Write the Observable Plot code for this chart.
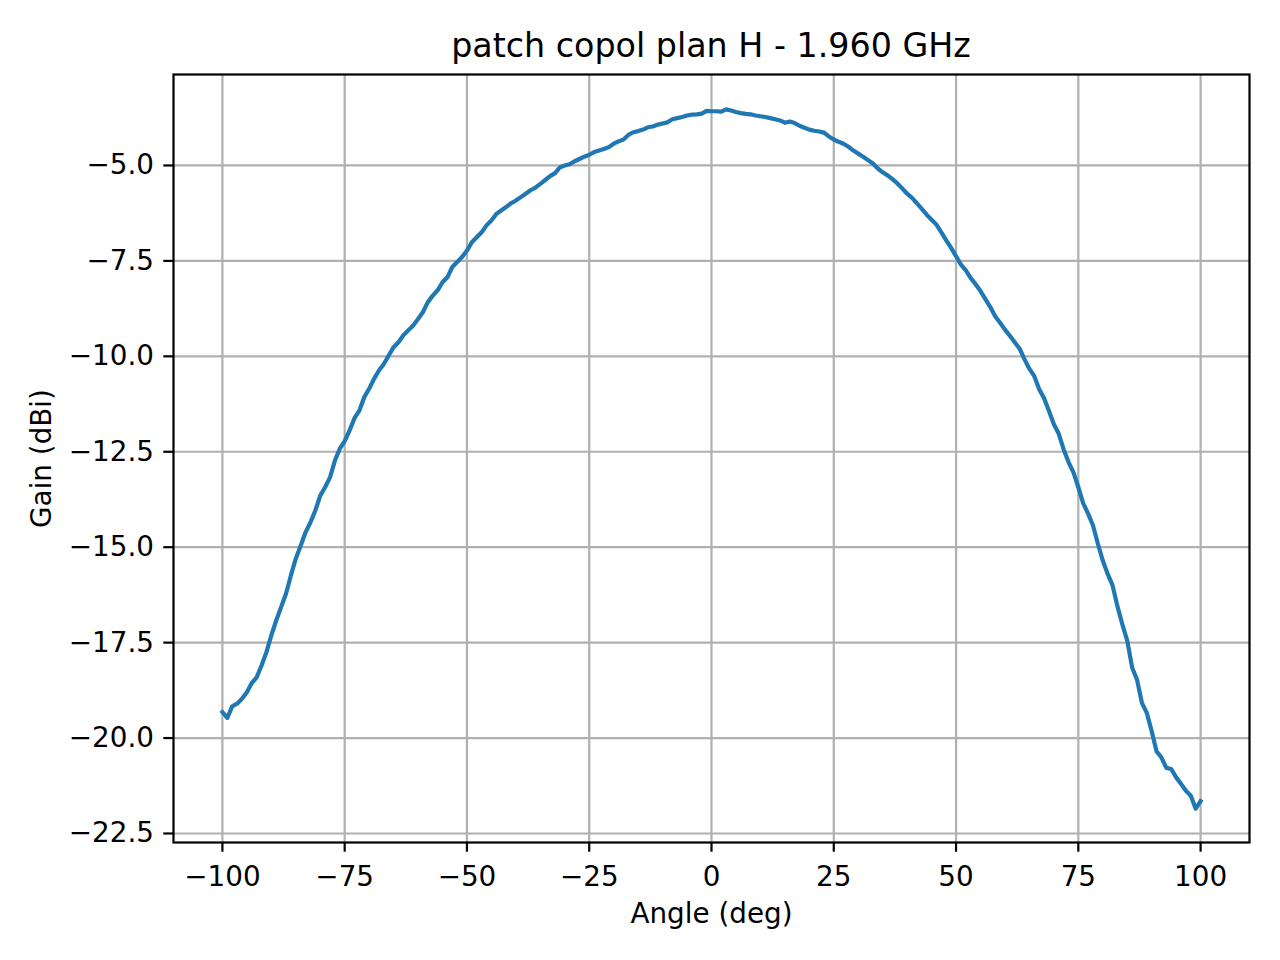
<!DOCTYPE html>
<html>
<head>
<meta charset="utf-8">
<script src="https://cdn.jsdelivr.net/npm/d3@7"></script>
<script src="https://cdn.jsdelivr.net/npm/@observablehq/plot@0.6"></script>
<style>
  html, body { margin: 0; padding: 0; background: white; }
  #wrap { width: 1280px; height: 960px; position: relative; background: white; }
  #title {
    height: 64px; box-sizing: border-box; padding-top: 29px;
    padding-left: 173px; padding-right: 31px;
    font-family: "DejaVu Sans"; font-size: 33.3px; line-height: 33.3px;
    text-align: center; color: black; white-space: nowrap;
  }
</style>
</head>
<body>
<div id="wrap">
  <div id="title">patch copol plan H - 1.960 GHz</div>
  <div id="chart"></div>
</div>
<script>
const angles = [
  -100,-99,-98,-97,-96,-95,-94,-93,-92,-91,-90,-89,-88,-87,-86,-85,-84,-83,-82,-81,
  -80,-79,-78,-77,-76,-75,-74,-73,-72,-71,-70,-69,-68,-67,-66,-65,-64,-63,-62,-61,
  -60,-59,-58,-57,-56,-55,-54,-53,-52,-51,-50,-49,-48,-47,-46,-45,-44,-43,-42,-41,
  -40,-39,-38,-37,-36,-35,-34,-33,-32,-31,-30,-29,-28,-27,-26,-25,-24,-23,-22,-21,
  -20,-19,-18,-17,-16,-15,-14,-13,-12,-11,-10,-9,-8,-7,-6,-5,-4,-3,-2,-1,
  0,1,2,3,4,5,6,7,8,9,10,11,12,13,14,15,16,17,18,19,
  20,21,22,23,24,25,26,27,28,29,30,31,32,33,34,35,36,37,38,39,
  40,41,42,43,44,45,46,47,48,49,50,51,52,53,54,55,56,57,58,59,
  60,61,62,63,64,65,66,67,68,69,70,71,72,73,74,75,76,77,78,79,
  80,81,82,83,84,85,86,87,88,89,90,91,92,93,94,95,96,97,98,99,100
];
const gains = [
  -19.32,-19.47,-19.17,-19.10,-18.97,-18.80,-18.56,-18.41,-18.10,-17.75,
  -17.31,-16.92,-16.57,-16.22,-15.74,-15.30,-14.96,-14.61,-14.35,-14.04,
  -13.65,-13.43,-13.17,-12.73,-12.42,-12.22,-11.94,-11.62,-11.42,-11.07,
  -10.85,-10.59,-10.37,-10.20,-9.98,-9.76,-9.63,-9.45,-9.32,-9.19,
  -9.02,-8.84,-8.58,-8.41,-8.27,-8.06,-7.93,-7.66,-7.53,-7.40,
  -7.23,-7.01,-6.88,-6.75,-6.57,-6.44,-6.27,-6.18,-6.09,-5.99,
  -5.92,-5.83,-5.74,-5.65,-5.58,-5.48,-5.38,-5.28,-5.20,-5.05,
  -5.00,-4.97,-4.89,-4.83,-4.77,-4.72,-4.65,-4.61,-4.57,-4.52,
  -4.43,-4.37,-4.32,-4.20,-4.13,-4.10,-4.06,-4.00,-3.98,-3.93,
  -3.90,-3.87,-3.79,-3.76,-3.73,-3.69,-3.67,-3.66,-3.64,-3.57,
  -3.58,-3.58,-3.59,-3.53,-3.56,-3.60,-3.63,-3.65,-3.66,-3.69,
  -3.71,-3.73,-3.76,-3.79,-3.82,-3.88,-3.85,-3.89,-3.96,-4.01,
  -4.06,-4.09,-4.11,-4.14,-4.24,-4.32,-4.38,-4.43,-4.51,-4.61,
  -4.69,-4.77,-4.86,-4.95,-5.08,-5.18,-5.26,-5.36,-5.47,-5.60,
  -5.74,-5.85,-5.99,-6.14,-6.29,-6.42,-6.55,-6.75,-6.96,-7.16,
  -7.38,-7.60,-7.75,-7.95,-8.11,-8.29,-8.50,-8.71,-8.95,-9.12,
  -9.30,-9.46,-9.63,-9.80,-10.08,-10.33,-10.52,-10.86,-11.10,-11.43,
  -11.78,-12.03,-12.44,-12.77,-13.04,-13.43,-13.85,-14.12,-14.43,-14.91,
  -15.35,-15.70,-16.00,-16.55,-17.02,-17.45,-18.15,-18.47,-19.08,-19.34,
  -19.82,-20.35,-20.51,-20.78,-20.81,-21.03,-21.20,-21.38,-21.51,-21.85,
  -21.65
];
const xTicks = [-100, -75, -50, -25, 0, 25, 50, 75, 100];
const yTicks = [-5.0, -7.5, -10.0, -12.5, -15.0, -17.5, -20.0, -22.5];
const xLabel = "Angle (deg)";
const yLabel = "Gain (dBi)";

const data = angles.map((a, i) => ({angle: a, gain: gains[i]}));

const FS = 27.8;
const chart = Plot.plot({
  width: 1280,
  height: 896,
  marginTop: 10,
  marginLeft: 173,
  marginRight: 31,
  marginBottom: 118,
  style: {fontFamily: "DejaVu Sans", fontSize: FS + "px", color: "black", background: "white", overflow: "visible"},
  x: {domain: [-110, 110]},
  y: {domain: [-22.736, -2.617]},
  marks: [
    Plot.gridX(xTicks, {stroke: "#b0b0b0", strokeOpacity: 1, strokeWidth: 2.2}),
    Plot.gridY(yTicks, {stroke: "#b0b0b0", strokeOpacity: 1, strokeWidth: 2.2}),
    Plot.line(data, {x: "angle", y: "gain", stroke: "#1f77b4", strokeWidth: 4.2, strokeLinejoin: "round", strokeLinecap: "square"}),
    Plot.axisX(xTicks, {anchor: "bottom", tickSize: 9.7, tickPadding: 13.6, strokeWidth: 2.2, tickFormat: d3.format("d"), fontSize: FS, label: null, fill: "black"}),
    Plot.axisY(yTicks, {anchor: "left", tickSize: 9.7, tickPadding: 9.8, strokeWidth: 2.2, tickFormat: d3.format(".1f"), fontSize: FS, label: null, fill: "black"}),
    Plot.text([xLabel], {frameAnchor: "bottom", dy: 71.1, textAnchor: "middle", lineAnchor: "middle", fontSize: FS, fill: "black"}),
    Plot.text([yLabel], {frameAnchor: "left", rotate: -90, dx: -131.4, textAnchor: "middle", lineAnchor: "middle", fontSize: FS, fill: "black"}),
    Plot.frame({stroke: "black", strokeWidth: 2.2})
  ]
});
document.getElementById("chart").appendChild(chart);
</script>
</body>
</html>
